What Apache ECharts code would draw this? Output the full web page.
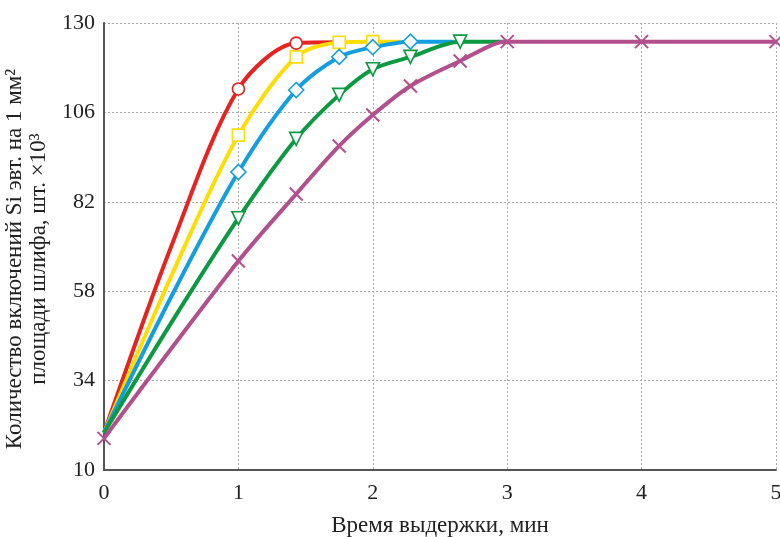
<!DOCTYPE html>
<html><head><meta charset="utf-8">
<script src="https://cdn.jsdelivr.net/npm/echarts@6/dist/echarts.min.js"></script>
<style>html,body{margin:0;padding:0;background:#fff}#c{width:780px;height:537px}</style>
</head><body><div id="c"></div>
<script>
// Data
const xTicks = [0, 1, 2, 3, 4, 5];
const yTicks = [10, 34, 58, 82, 106, 130];

const redX = [0, 0.5, 1, 1.43, 1.75];
const redY = [20, 70, 112.3, 124.6, 124.8];
const redMarked = [false, false, true, true, false];

const yellowX = [0, 0.5, 1, 1.43, 1.75, 2, 2.2];
const yellowY = [20, 62, 99.9, 120.9, 124.8, 125, 125];
const yellowMarked = [false, false, true, true, true, true, false];

const blueX = [0, 0.5, 1, 1.43, 1.75, 2, 2.28, 2.6];
const blueY = [20, 56.5, 90, 112, 120.9, 123.5, 125, 125];
const blueMarked = [false, false, true, true, true, true, true, false];

const greenX = [0, 0.5, 1, 1.43, 1.75, 2, 2.28, 2.65, 3.0];
const greenY = [20, 49.5, 77.6, 98.9, 110.7, 117.6, 120.9, 125, 125];
const greenMarked = [false, false, true, true, true, true, true, true, false];

const purpleX = [0, 1, 1.43, 1.75, 2, 2.28, 2.65, 3, 4, 5];
const purpleY = [18.5, 66.1, 84.1, 97, 105.3, 113.1, 119.8, 125, 125, 125];
const purpleMarked = [true, true, true, true, true, true, true, true, true, true];

const xName = 'Время выдержки, мин';
const yName = 'Количество включений Si эвт. на 1 мм²\nплощади шлифа, шт. ×10³';

function build(xs, ys, marked) {
  return xs.map((x, i) => marked[i] ? [x, ys[i]] : {value: [x, ys[i]], symbol: 'none'});
}
const FONT = '"Liberation Serif", "DejaVu Serif", serif';
function series(name, xs, ys, marked, color, symbol, size, extra) {
  return Object.assign({
    name, type: 'line', data: build(xs, ys, marked),
    smooth: 0.3,
    symbol, symbolSize: size, showAllSymbol: true,
    lineStyle: {color, width: 4},
    itemStyle: {color: '#fff', borderColor: color, borderWidth: 1.6},
    z: 2
  }, extra || {});
}

const chart = echarts.init(document.getElementById('c'), null, {renderer: 'canvas'});
chart.setOption({
  animation: false,
  backgroundColor: '#fff',
  grid: {left: 104, right: 4, top: 23, bottom: 67, containLabel: false, outerBoundsMode: 'none'},
  xAxis: {
    type: 'value', min: 0, max: 5, interval: 1,
    name: xName, nameLocation: 'middle', nameGap: 44,
    nameTextStyle: {fontFamily: FONT, fontSize: 23, color: '#222'},
    axisLine: {show: true, lineStyle: {color: '#555', width: 2}},
    axisTick: {show: false},
    axisLabel: {fontFamily: FONT, fontSize: 22, color: '#222', margin: 12,
      formatter: v => xTicks.includes(v) ? String(v) : ''},
    splitLine: {show: true, lineStyle: {color: '#aaa', type: [2, 2], width: 1}}
  },
  yAxis: {
    type: 'value', min: 10, max: 130, interval: 24,
    name: yName, nameLocation: 'middle', nameGap: 48, nameRotate: 90,
    nameTextStyle: {fontFamily: FONT, fontSize: 23, color: '#222', lineHeight: 24, padding: [0, 25, 0, 0]},
    axisLine: {show: true, lineStyle: {color: '#555', width: 2}},
    axisTick: {show: false},
    axisLabel: {fontFamily: FONT, fontSize: 22, color: '#222', margin: 9,
      formatter: v => yTicks.includes(v) ? String(v) : ''},
    splitLine: {show: true, lineStyle: {color: '#aaa', type: [2, 2], width: 1}}
  },
  series: [
    series('red', redX, redY, redMarked, '#e52421', 'circle', 12),
    series('yellow', yellowX, yellowY, yellowMarked, '#ffdd00', 'rect', 12),
    series('blue', blueX, blueY, blueMarked, '#139fdf', 'diamond', 15),
    series('green', greenX, greenY, greenMarked, '#0b9a41', 'triangle', 13, {symbolRotate: 180}),
    series('purple', purpleX, purpleY, purpleMarked, '#b24f8d', 'path://M0,0 L10,10 M10,0 L0,10', 13,
      {itemStyle: {color: 'none', borderColor: '#b24f8d', borderWidth: 2}})
  ]
});
</script></body></html>
